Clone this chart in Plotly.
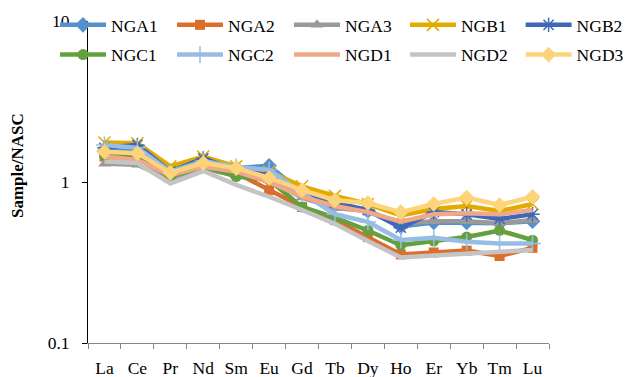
import plotly.graph_objects as go

elements = ["La", "Ce", "Pr", "Nd", "Sm", "Eu", "Gd", "Tb", "Dy", "Ho", "Er", "Yb", "Tm", "Lu"]

NGA1 = [1.55, 1.55, 1.17, 1.37, 1.22, 1.26, 0.86, 0.72, 0.66, 0.53, 0.56, 0.56, 0.555, 0.57]
NGA2 = [1.44, 1.37, 1.08, 1.23, 1.14, 0.89, 0.70, 0.58, 0.455, 0.355, 0.365, 0.375, 0.347, 0.39]
NGA3 = [1.30, 1.28, 1.03, 1.21, 1.10, 1.03, 0.80, 0.69, 0.66, 0.55, 0.57, 0.57, 0.555, 0.58]
NGB1 = [1.76, 1.74, 1.25, 1.44, 1.25, 1.16, 0.94, 0.82, 0.73, 0.62, 0.68, 0.71, 0.66, 0.73]
NGB2 = [1.63, 1.70, 1.16, 1.40, 1.19, 1.10, 0.87, 0.74, 0.67, 0.52, 0.65, 0.63, 0.59, 0.63]
NGC1 = [1.47, 1.44, 1.08, 1.245, 1.08, 1.03, 0.70, 0.60, 0.50, 0.405, 0.43, 0.455, 0.50, 0.435]
NGC2 = [1.70, 1.63, 1.16, 1.35, 1.24, 1.19, 0.855, 0.63, 0.565, 0.436, 0.45, 0.425, 0.415, 0.415]
NGD1 = [1.44, 1.37, 1.105, 1.245, 1.16, 1.00, 0.81, 0.71, 0.65, 0.567, 0.63, 0.64, 0.63, 0.67]
NGD2 = [1.34, 1.31, 0.98, 1.17, 0.96, 0.81, 0.67, 0.55, 0.43, 0.34, 0.35, 0.36, 0.367, 0.378]
NGD3 = [1.54, 1.51, 1.14, 1.31, 1.22, 1.06, 0.89, 0.77, 0.74, 0.65, 0.73, 0.80, 0.72, 0.81]

series_names = ["NGA1", "NGA2", "NGA3", "NGB1", "NGB2", "NGC1", "NGC2", "NGD1", "NGD2", "NGD3"]
series_values = [NGA1, NGA2, NGA3, NGB1, NGB2, NGC1, NGC2, NGD1, NGD2, NGD3]
colors = ["#5590CC", "#DC6E2C", "#9A9A9A", "#E3AA00", "#3F69B8",
          "#64A03F", "#96BDE3", "#F0A888", "#C4C4C4", "#FDD47A"]
symbols = ["diamond", "square", "triangle-up", "x-thin-open", "asterisk-open",
           "circle", "cross-thin-open", None, None, "diamond"]
sizes = [12, 10, 11, 12, 12, 11, 12, 0, 0, 12]
# legend column each series sits in (two rows of five)
legend_ids = ["legend", "legend2", "legend3", "legend4", "legend5",
              "legend", "legend2", "legend3", "legend4", "legend5"]

FONT = "'Liberation Serif', 'Times New Roman', serif"

fig = go.Figure()
for name, vals, col, sym, sz, lg in zip(series_names, series_values, colors, symbols, sizes, legend_ids):
    if sym is None:
        mk = dict()
        mode = "lines"
    else:
        open_m = sym.endswith("open")
        mk = dict(symbol=sym, size=sz, color=col,
                  line=dict(color=col, width=1.5 if open_m else 0))
        mode = "lines+markers"
    fig.add_trace(go.Scatter(
        x=elements, y=vals, mode=mode, name=name,
        line=dict(color=col, width=4.5), marker=mk,
        legend=lg, legendgroup=name, hoverinfo="skip"))

col_x = [-0.0716, 0.1822, 0.4360, 0.6876, 0.9384]
legend_common = dict(
    orientation="v", xanchor="left", y=1.0435, yanchor="top",
    itemwidth=46, tracegroupgap=4,
    font=dict(family=FONT, size=17.5, color="black"),
    bgcolor="rgba(0,0,0,0)", itemclick=False, itemdoubleclick=False,
)

fig.update_layout(
    width=630, height=377,
    margin=dict(l=88, r=81, t=21, b=34, autoexpand=False),
    paper_bgcolor="white", plot_bgcolor="white",
    font=dict(family=FONT, size=17.5, color="black"),
    showlegend=True,
    legend=dict(x=col_x[0], **legend_common),
    legend2=dict(x=col_x[1], **legend_common),
    legend3=dict(x=col_x[2], **legend_common),
    legend4=dict(x=col_x[3], **legend_common),
    legend5=dict(x=col_x[4], **legend_common),
    xaxis=dict(
        type="category", range=[-0.5, 13.5], tickson="boundaries",
        ticks="outside", ticklen=5, tickcolor="#868686", tickwidth=1,
        showline=True, linecolor="#868686", linewidth=1, tickangle=0,
        showgrid=False, zeroline=False, fixedrange=True,
        tickfont=dict(family=FONT, size=17.5, color="black"),
        ticklabelstandoff=9,
    ),
    yaxis=dict(
        type="log", range=[-1, 1], tickvals=[0.1, 1, 10], ticktext=["0.1", "1", "10"],
        ticks="outside", ticklen=5, tickcolor="black", tickwidth=1,
        showline=True, linecolor="black", linewidth=1,
        showgrid=False, zeroline=False, fixedrange=True,
        tickfont=dict(family=FONT, size=17.5, color="black"),
        ticklabelstandoff=9,
    ),
    annotations=[dict(
        text="<b>Sample/NASC</b>", textangle=-90, showarrow=False,
        xref="paper", yref="paper", x=-0.1518, y=0.5497,
        xanchor="center", yanchor="middle",
        font=dict(family=FONT, size=17, color="black"),
    )],
)

fig.write_html("out.html")
